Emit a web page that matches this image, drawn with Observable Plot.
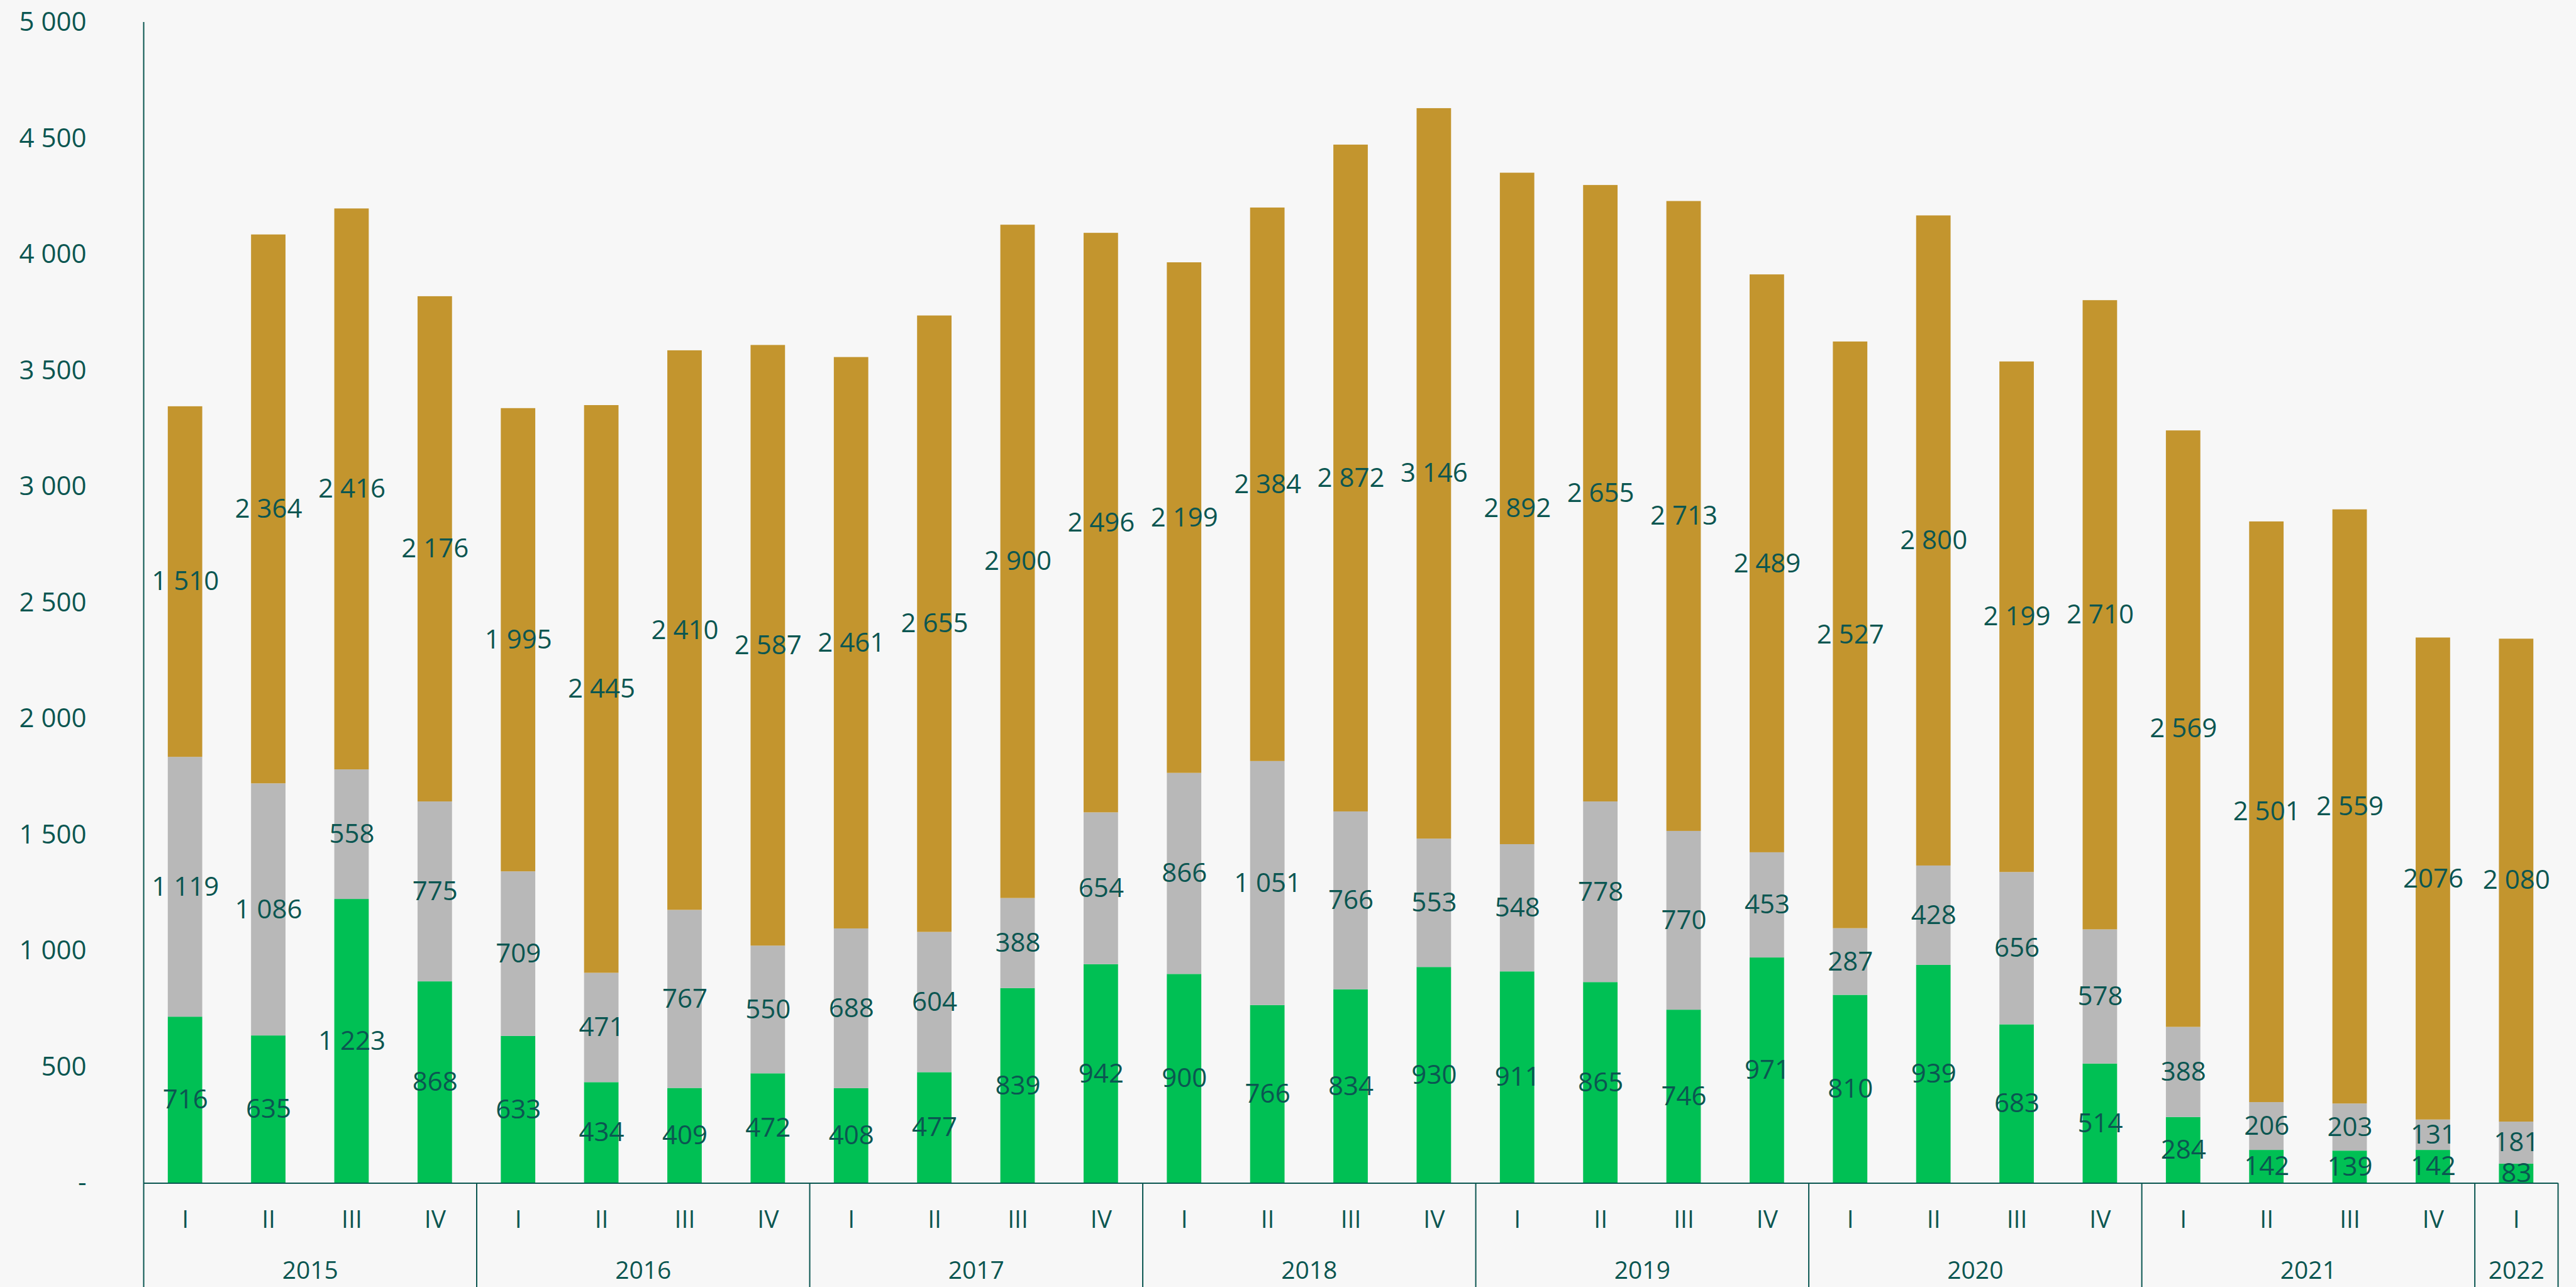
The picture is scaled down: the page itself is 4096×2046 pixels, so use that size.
<!DOCTYPE html>
<html>
<head>
<meta charset="utf-8">
<script src="https://cdn.jsdelivr.net/npm/d3@7"></script>
<script src="https://cdn.jsdelivr.net/npm/@observablehq/plot@0.6"></script>
<style>
html, body { margin: 0; padding: 0; background: #f7f7f7; overflow: hidden; }
#chart svg { display: block; }
</style>
</head>
<body>
<div id="chart"></div>
<script>
// ---- Data ----
const years = ["2015", "2016", "2017", "2018", "2019", "2020", "2021", "2022"];
const quartersPerYear = [4, 4, 4, 4, 4, 4, 4, 1];
const quarterNames = ["I", "II", "III", "IV"];

const lowerValues  = [716, 635, 1223, 868, 633, 434, 409, 472, 408, 477, 839, 942, 900, 766, 834, 930, 911, 865, 746, 971, 810, 939, 683, 514, 284, 142, 139, 142, 83];
const middleValues = [1119, 1086, 558, 775, 709, 471, 767, 550, 688, 604, 388, 654, 866, 1051, 766, 553, 548, 778, 770, 453, 287, 428, 656, 578, 388, 206, 203, 131, 181];
const upperValues  = [1510, 2364, 2416, 2176, 1995, 2445, 2410, 2587, 2461, 2655, 2900, 2496, 2199, 2384, 2872, 3146, 2892, 2655, 2713, 2489, 2527, 2800, 2199, 2710, 2569, 2501, 2559, 2076, 2080];

const seriesKeys = ["lower", "middle", "upper"];
const seriesColors = ["#00c054", "#b8b8b8", "#c3952e"];
const yTicks = [0, 500, 1000, 1500, 2000, 2500, 3000, 3500, 4000, 4500, 5000];
// labels printed without digit grouping in the original
const ungroupedLabels = [{series: "upper", index: 27}];

// ---- Build tables ----
const categories = [];
years.forEach((y, yi) => {
  for (let q = 0; q < quartersPerYear[yi]; q++) categories.push({year: y, quarter: quarterNames[q]});
});
const n = categories.length;

const locale = d3.formatLocale({decimal: ",", thousands: " ", grouping: [3], currency: ["", ""]});
const fmt = locale.format(",d");

const rows = [];
[[seriesKeys[0], lowerValues], [seriesKeys[1], middleValues], [seriesKeys[2], upperValues]].forEach(([s, vals]) => {
  vals.forEach((v, i) => {
    const plain = ungroupedLabels.some(u => u.series === s && u.index === i);
    rows.push({series: s, pos: i + 0.5, value: v, label: plain ? String(v) : fmt(v)});
  });
});

const quarterPositions = categories.map((c, i) => i + 0.5);
const yearMids = [];
const boundaries = [0];
let acc = 0;
quartersPerYear.forEach(q => { yearMids.push(acc + q / 2); acc += q; boundaries.push(acc); });

const textColor = "#0b5651";
const lineColor = "#0b5651";

const chart = Plot.plot({
  width: 4096,
  height: 2046,
  marginLeft: 228,
  marginRight: 29,
  marginTop: 35,
  marginBottom: 165.5,
  style: {background: "#f7f7f7", fontFamily: "'Open Sans', sans-serif", color: textColor, overflow: "visible"},
  x: {domain: [0, n], label: null},
  y: {domain: [0, 5000], label: null},
  color: {type: "ordinal", domain: seriesKeys, range: seriesColors},
  marks: [
    Plot.rectY(rows, {x: "pos", interval: 1, y: "value", fill: "series", insetLeft: 38.8, insetRight: 38.8}),
    Plot.text(rows, Plot.stackY({x: "pos", y: "value", text: "label", fontSize: 42, fill: textColor})),
    Plot.ruleY([0], {stroke: lineColor, strokeWidth: 2}),
    Plot.ruleX([0], {stroke: lineColor, strokeWidth: 2}),
    Plot.axisY({ticks: yTicks, tickSize: 0, tickPadding: 91, fontSize: 42, color: textColor, label: null,
      tickFormat: d => d === 0 ? "-" : fmt(d)}),
    Plot.axisX({ticks: quarterPositions, tickSize: 0, tickPadding: 43, fontSize: 39, color: textColor, label: null,
      tickFormat: d => categories[Math.floor(d)].quarter}),
    Plot.axisX({ticks: yearMids, tickSize: 0, tickPadding: 124, fontSize: 39, color: textColor, label: null,
      tickFormat: d => years[yearMids.indexOf(d)]}),
    Plot.axisX({ticks: boundaries, tickSize: 166, tickPadding: 0, strokeWidth: 2, stroke: lineColor, label: null,
      tickFormat: () => ""})
  ]
});
document.getElementById("chart").appendChild(chart);
</script>
</body>
</html>
